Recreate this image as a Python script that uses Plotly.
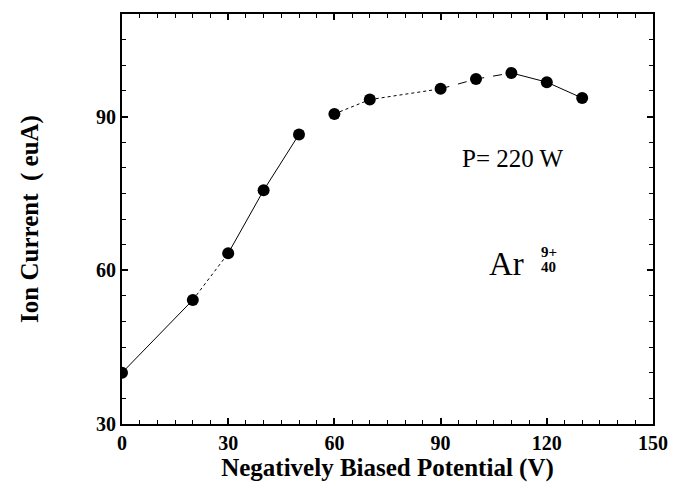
import plotly.graph_objects as go

# Data
potential = [0, 20, 30, 40, 50, 60, 70, 90, 100, 110, 120, 130]
current = [40.0, 54.2, 63.3, 75.6, 86.5, 90.5, 93.3, 95.4, 97.3, 98.5, 96.7, 93.6]

x_ticks = [0, 30, 60, 90, 120, 150]
y_ticks = [30, 60, 90]

FONT = "Liberation Serif"

fig = go.Figure()

# connecting segments (index ranges, dash styles)
segments = [(0, 2, "solid"), (1, 3, "dot"), (2, 5, "solid"), (5, 7, "dot"),
            (6, 8, "dot"), (7, 10, "dash"), (9, 12, "solid")]
for a, b, d in segments:
    fig.add_trace(go.Scatter(x=potential[a:b], y=current[a:b], mode="lines",
                             line=dict(color="black", width=1, dash=d),
                             hoverinfo="skip", showlegend=False))

fig.add_trace(go.Scatter(x=potential, y=current, mode="markers",
                         marker=dict(color="black", size=12),
                         showlegend=False))

fig.add_annotation(x=110.5, y=81.8, text="P= 220 W", showarrow=False,
                   font=dict(family=FONT, size=25, color="black"))
fig.add_annotation(x=108.5, y=61.2, text="Ar", showarrow=False,
                   font=dict(family=FONT, size=33, color="black"))
fig.add_annotation(x=120.5, y=63.6, text="<b>9+</b>", showarrow=False,
                   font=dict(family=FONT, size=15, color="black"))
fig.add_annotation(x=120.5, y=60.7, text="<b>40</b>", showarrow=False,
                   font=dict(family=FONT, size=15, color="black"))

axis_common = dict(showline=True, linecolor="black", linewidth=2, mirror="ticks",
                   ticks="inside", ticklen=6, tickwidth=1.5, tickcolor="black",
                   showgrid=False, zeroline=False, automargin=False,
                   tickfont=dict(family=FONT, size=20, color="black"),
                   minor=dict(ticks="inside", ticklen=4, tickcolor="black", dtick=5, tickwidth=1))

fig.update_xaxes(range=[0, 150], tickvals=x_ticks, ticktext=["<b>%d</b>" % v for v in x_ticks],
                 title=dict(text="<b>Negatively Biased Potential (V)</b>", standoff=0,
                            font=dict(family=FONT, size=25, color="black")),
                 ticklabeloverflow="allow", **axis_common)
fig.update_yaxes(range=[30, 110], tickvals=y_ticks, ticktext=["<b>%d</b>" % v for v in y_ticks],
                 title=dict(text="<b>Ion Current\u00a0\u00a0( euA)</b>", standoff=50,
                            font=dict(family=FONT, size=25, color="black")),
                 **axis_common)

fig.update_layout(width=673, height=489, plot_bgcolor="white", paper_bgcolor="white",
                  margin=dict(l=122, r=20, t=14, b=65), showlegend=False)

# remove the default page margin so the figure fills the window without scrollbars
fig.write_html("out.html", config={"displayModeBar": False},
               post_script="document.body.style.margin='0';document.body.style.overflow='hidden';")
